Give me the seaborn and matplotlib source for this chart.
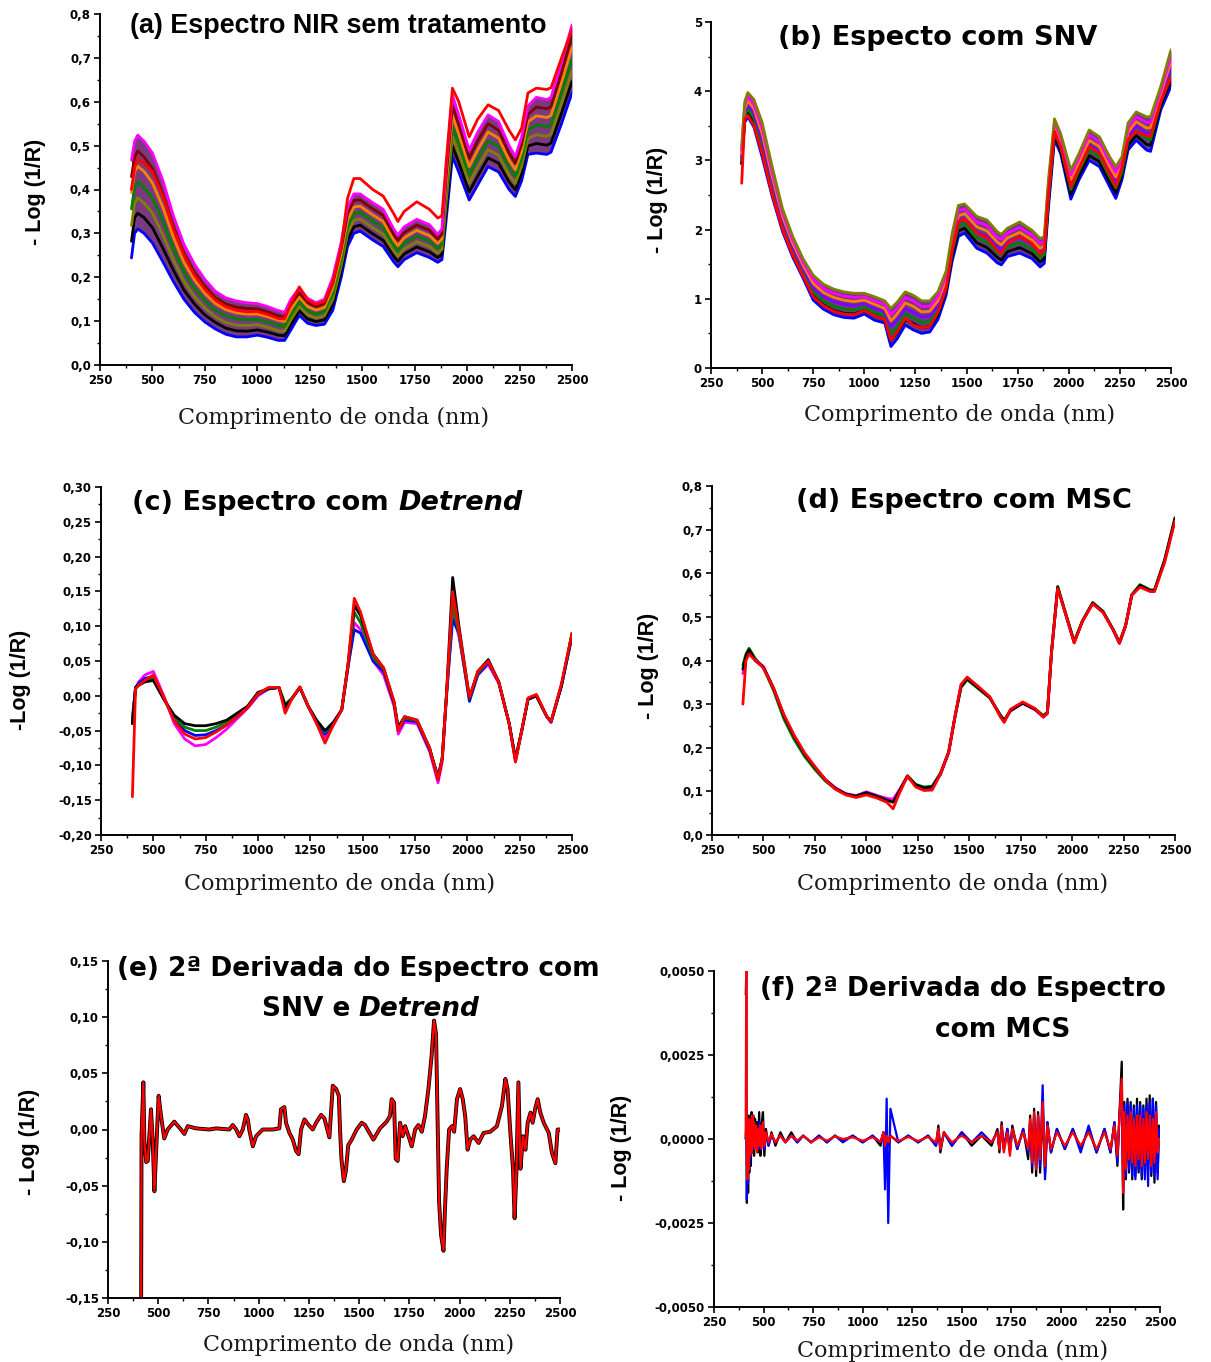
import matplotlib
matplotlib.use("Agg")
import matplotlib.pyplot as plt
import pandas as pd
import seaborn as sns
from matplotlib.ticker import MultipleLocator

# ---------------- data ----------------
# common wavelength grid (nm) for panels a-d
wavelength = [400, 415, 430, 460, 500, 550, 600, 650, 700, 750,
              800, 850, 900, 950, 1000, 1050, 1100, 1130, 1160, 1200,
              1240, 1280, 1320, 1360, 1400, 1430, 1460, 1490, 1550, 1600,
              1650, 1670, 1700, 1760, 1820, 1860, 1880, 1900, 1930, 1960,
              2010, 2050, 2100, 2150, 2200, 2230, 2260, 2290, 2330, 2380,
              2400, 2450, 2500]

# (a) raw NIR spectra
a_blue = [0.244, 0.300, 0.310, 0.300, 0.278, 0.235, 0.190, 0.150, 0.120, 0.098,
          0.082, 0.070, 0.064, 0.064, 0.068, 0.063, 0.056, 0.056, 0.080, 0.113,
          0.095, 0.090, 0.093, 0.125, 0.200, 0.270, 0.300, 0.305, 0.285, 0.270,
          0.235, 0.224, 0.240, 0.256, 0.245, 0.234, 0.240, 0.330, 0.475, 0.440,
          0.376, 0.410, 0.452, 0.440, 0.400, 0.384, 0.420, 0.480, 0.483, 0.480,
          0.485, 0.550, 0.620]
a_black = [0.282, 0.336, 0.346, 0.336, 0.313, 0.266, 0.216, 0.171, 0.139, 0.114,
           0.097, 0.084, 0.078, 0.077, 0.080, 0.075, 0.068, 0.067, 0.092, 0.124,
           0.105, 0.099, 0.103, 0.138, 0.214, 0.285, 0.315, 0.319, 0.299, 0.284,
           0.248, 0.236, 0.253, 0.269, 0.258, 0.245, 0.252, 0.350, 0.499, 0.462,
           0.395, 0.430, 0.472, 0.460, 0.417, 0.399, 0.437, 0.499, 0.505, 0.501,
           0.506, 0.574, 0.646]
a_olive = [0.318, 0.369, 0.381, 0.369, 0.346, 0.296, 0.240, 0.191, 0.156, 0.130,
           0.110, 0.097, 0.091, 0.090, 0.092, 0.086, 0.078, 0.077, 0.103, 0.133,
           0.114, 0.107, 0.112, 0.150, 0.226, 0.300, 0.330, 0.333, 0.313, 0.298,
           0.260, 0.248, 0.265, 0.281, 0.270, 0.255, 0.263, 0.370, 0.521, 0.483,
           0.414, 0.450, 0.491, 0.478, 0.433, 0.414, 0.453, 0.516, 0.525, 0.521,
           0.526, 0.596, 0.671]
a_green = [0.356, 0.405, 0.417, 0.405, 0.381, 0.328, 0.265, 0.213, 0.175, 0.147,
           0.125, 0.112, 0.105, 0.103, 0.104, 0.098, 0.090, 0.088, 0.115, 0.144,
           0.124, 0.116, 0.122, 0.163, 0.240, 0.315, 0.345, 0.348, 0.328, 0.313,
           0.273, 0.260, 0.278, 0.294, 0.283, 0.266, 0.275, 0.390, 0.545, 0.505,
           0.433, 0.470, 0.511, 0.498, 0.450, 0.430, 0.470, 0.535, 0.547, 0.543,
           0.548, 0.620, 0.698]
a_orange = [0.393, 0.441, 0.453, 0.441, 0.415, 0.359, 0.291, 0.234, 0.194, 0.163,
            0.140, 0.126, 0.119, 0.116, 0.116, 0.110, 0.102, 0.099, 0.127, 0.155,
            0.133, 0.125, 0.131, 0.175, 0.254, 0.330, 0.360, 0.362, 0.342, 0.327,
            0.285, 0.272, 0.290, 0.307, 0.295, 0.277, 0.287, 0.410, 0.569, 0.527,
            0.452, 0.490, 0.531, 0.517, 0.467, 0.445, 0.487, 0.554, 0.568, 0.564,
            0.569, 0.644, 0.724]
a_wine = [0.429, 0.474, 0.488, 0.474, 0.448, 0.389, 0.315, 0.254, 0.211, 0.179,
          0.153, 0.139, 0.132, 0.129, 0.128, 0.121, 0.112, 0.109, 0.138, 0.164,
          0.142, 0.133, 0.140, 0.187, 0.266, 0.345, 0.375, 0.376, 0.356, 0.341,
          0.297, 0.284, 0.302, 0.319, 0.307, 0.287, 0.298, 0.430, 0.591, 0.548,
          0.471, 0.510, 0.550, 0.535, 0.483, 0.460, 0.503, 0.571, 0.588, 0.584,
          0.589, 0.666, 0.749]
a_magenta = [0.467, 0.510, 0.524, 0.510, 0.483, 0.420, 0.340, 0.275, 0.230, 0.195,
             0.168, 0.153, 0.146, 0.142, 0.140, 0.133, 0.124, 0.120, 0.150, 0.175,
             0.152, 0.142, 0.150, 0.200, 0.280, 0.360, 0.390, 0.390, 0.370, 0.355,
             0.310, 0.296, 0.315, 0.332, 0.320, 0.298, 0.310, 0.450, 0.615, 0.570,
             0.490, 0.530, 0.570, 0.555, 0.500, 0.475, 0.520, 0.590, 0.610, 0.605,
             0.610, 0.690, 0.775]
a_red = [0.400, 0.450, 0.470, 0.460, 0.440, 0.385, 0.310, 0.250, 0.205, 0.173,
         0.148, 0.133, 0.125, 0.121, 0.122, 0.115, 0.106, 0.105, 0.140, 0.178,
         0.148, 0.138, 0.145, 0.190, 0.270, 0.380, 0.425, 0.425, 0.400, 0.385,
         0.345, 0.327, 0.350, 0.372, 0.355, 0.335, 0.340, 0.460, 0.631, 0.600,
         0.520, 0.560, 0.593, 0.580, 0.535, 0.513, 0.540, 0.620, 0.631, 0.628,
         0.632, 0.700, 0.764]

# (b) SNV
b_blue = [2.95, 3.55, 3.63, 3.48, 3.05, 2.47, 1.97, 1.60, 1.30, 0.98,
          0.85, 0.77, 0.73, 0.72, 0.78, 0.69, 0.65, 0.31, 0.42, 0.62,
          0.55, 0.50, 0.52, 0.70, 1.05, 1.55, 1.90, 1.95, 1.73, 1.66,
          1.52, 1.49, 1.61, 1.66, 1.58, 1.46, 1.51, 2.30, 3.30, 3.10,
          2.44, 2.72, 3.00, 2.91, 2.62, 2.45, 2.72, 3.15, 3.29, 3.15,
          3.13, 3.73, 4.07]
b_black = [2.95, 3.60, 3.69, 3.55, 3.14, 2.54, 2.03, 1.65, 1.35, 1.04,
           0.91, 0.83, 0.79, 0.78, 0.83, 0.75, 0.70, 0.40, 0.51, 0.70,
           0.64, 0.58, 0.60, 0.77, 1.11, 1.62, 1.98, 2.02, 1.81, 1.74,
           1.60, 1.56, 1.68, 1.74, 1.65, 1.53, 1.58, 2.37, 3.35, 3.15,
           2.51, 2.78, 3.07, 2.98, 2.69, 2.53, 2.78, 3.22, 3.36, 3.23,
           3.22, 3.79, 4.16]
b_green = [3.00, 3.65, 3.75, 3.61, 3.22, 2.61, 2.08, 1.70, 1.39, 1.10,
           0.97, 0.89, 0.85, 0.84, 0.88, 0.80, 0.76, 0.49, 0.59, 0.78,
           0.72, 0.66, 0.67, 0.83, 1.17, 1.68, 2.05, 2.09, 1.88, 1.82,
           1.67, 1.64, 1.75, 1.81, 1.72, 1.60, 1.64, 2.43, 3.40, 3.20,
           2.58, 2.85, 3.15, 3.05, 2.76, 2.60, 2.83, 3.28, 3.43, 3.31,
           3.30, 3.84, 4.24]
b_purple = [3.05, 3.70, 3.81, 3.68, 3.30, 2.69, 2.14, 1.75, 1.44, 1.16,
            1.03, 0.96, 0.92, 0.90, 0.93, 0.86, 0.81, 0.59, 0.69, 0.86,
            0.80, 0.74, 0.75, 0.90, 1.23, 1.75, 2.13, 2.16, 1.96, 1.90,
            1.75, 1.71, 1.82, 1.89, 1.79, 1.67, 1.71, 2.50, 3.45, 3.25,
            2.65, 2.91, 3.22, 3.13, 2.84, 2.68, 2.89, 3.35, 3.50, 3.39,
            3.38, 3.90, 4.34]
b_orange = [3.10, 3.75, 3.86, 3.75, 3.39, 2.76, 2.19, 1.80, 1.49, 1.22,
            1.09, 1.02, 0.98, 0.96, 0.98, 0.92, 0.86, 0.68, 0.78, 0.94,
            0.89, 0.81, 0.82, 0.97, 1.28, 1.82, 2.20, 2.23, 2.04, 1.98,
            1.82, 1.78, 1.88, 1.96, 1.85, 1.73, 1.77, 2.57, 3.50, 3.29,
            2.72, 2.97, 3.29, 3.20, 2.91, 2.76, 2.94, 3.41, 3.56, 3.47,
            3.47, 3.96, 4.43]
b_magenta = [3.15, 3.80, 3.92, 3.81, 3.47, 2.83, 2.24, 1.85, 1.53, 1.28,
             1.15, 1.08, 1.04, 1.02, 1.03, 0.97, 0.92, 0.77, 0.86, 1.02,
             0.97, 0.89, 0.89, 1.03, 1.34, 1.88, 2.27, 2.30, 2.11, 2.06,
             1.89, 1.86, 1.95, 2.03, 1.92, 1.80, 1.83, 2.63, 3.55, 3.34,
             2.79, 3.04, 3.37, 3.27, 2.98, 2.83, 3.00, 3.47, 3.63, 3.55,
             3.55, 4.01, 4.51]
b_olive = [3.20, 3.85, 3.98, 3.88, 3.55, 2.90, 2.30, 1.90, 1.58, 1.34,
           1.21, 1.14, 1.10, 1.08, 1.08, 1.03, 0.97, 0.86, 0.95, 1.10,
           1.05, 0.97, 0.97, 1.10, 1.40, 1.95, 2.35, 2.37, 2.19, 2.14,
           1.97, 1.93, 2.02, 2.11, 1.99, 1.87, 1.90, 2.70, 3.60, 3.39,
           2.86, 3.10, 3.44, 3.34, 3.05, 2.91, 3.05, 3.54, 3.70, 3.63,
           3.63, 4.07, 4.60]
b_red = [2.67, 3.60, 3.65, 3.50, 3.10, 2.50, 2.00, 1.63, 1.33, 1.03,
         0.90, 0.82, 0.78, 0.77, 0.83, 0.75, 0.70, 0.40, 0.52, 0.72,
         0.62, 0.58, 0.60, 0.80, 1.15, 1.70, 2.12, 2.15, 1.95, 1.88,
         1.70, 1.65, 1.80, 1.90, 1.80, 1.65, 1.70, 2.50, 3.42, 3.20,
         2.62, 2.88, 3.20, 3.10, 2.80, 2.62, 2.90, 3.30, 3.42, 3.35,
         3.35, 3.85, 4.20]

# (c) Detrend
c_magenta = [-0.030, 0.010, 0.020, 0.030, 0.035, 0.000, -0.040, -0.062, -0.072, -0.070,
             -0.060, -0.048, -0.033, -0.018, 0.000, 0.010, 0.012, -0.020, -0.005, 0.012,
             -0.015, -0.040, -0.060, -0.042, -0.020, 0.040, 0.105, 0.095, 0.050, 0.030,
             -0.015, -0.055, -0.038, -0.040, -0.080, -0.125, -0.095, -0.005, 0.120, 0.085,
             -0.003, 0.030, 0.045, 0.018, -0.040, -0.095, -0.050, -0.005, 0.000, -0.030,
             -0.038, 0.015, 0.085]
c_blue = [-0.040, 0.012, 0.018, 0.025, 0.028, -0.003, -0.034, -0.050, -0.057, -0.056,
          -0.050, -0.042, -0.030, -0.017, 0.002, 0.010, 0.012, -0.018, -0.005, 0.012,
          -0.016, -0.038, -0.055, -0.040, -0.020, 0.042, 0.095, 0.090, 0.050, 0.035,
          -0.010, -0.050, -0.035, -0.037, -0.078, -0.115, -0.090, 0.000, 0.110, 0.090,
          -0.008, 0.030, 0.048, 0.020, -0.040, -0.092, -0.050, -0.005, 0.000, -0.030,
          -0.038, 0.015, 0.085]
c_green = [-0.035, 0.012, 0.016, 0.022, 0.025, -0.004, -0.031, -0.045, -0.050, -0.050,
           -0.045, -0.038, -0.028, -0.016, 0.003, 0.010, 0.012, -0.012, -0.004, 0.012,
           -0.015, -0.036, -0.052, -0.039, -0.020, 0.043, 0.120, 0.105, 0.055, 0.038,
           -0.010, -0.048, -0.032, -0.036, -0.076, -0.118, -0.090, 0.000, 0.130, 0.090,
           -0.004, 0.032, 0.050, 0.020, -0.040, -0.092, -0.050, -0.004, 0.001, -0.030,
           -0.037, 0.016, 0.088]
c_black = [-0.040, 0.012, 0.015, 0.020, 0.022, -0.005, -0.028, -0.040, -0.043, -0.043,
           -0.040, -0.035, -0.025, -0.015, 0.005, 0.010, 0.012, -0.015, -0.005, 0.012,
           -0.015, -0.035, -0.050, -0.038, -0.020, 0.045, 0.130, 0.115, 0.060, 0.040,
           -0.010, -0.045, -0.030, -0.035, -0.075, -0.120, -0.090, 0.000, 0.170, 0.100,
           -0.003, 0.035, 0.052, 0.020, -0.040, -0.090, -0.050, -0.005, 0.000, -0.030,
           -0.037, 0.015, 0.090]
c_red = [-0.145, 0.010, 0.015, 0.022, 0.030, -0.002, -0.036, -0.055, -0.062, -0.060,
         -0.052, -0.042, -0.030, -0.017, 0.003, 0.012, 0.012, -0.025, -0.005, 0.013,
         -0.015, -0.040, -0.068, -0.042, -0.020, 0.045, 0.140, 0.120, 0.060, 0.040,
         -0.008, -0.050, -0.030, -0.035, -0.075, -0.120, -0.090, 0.000, 0.150, 0.095,
         -0.002, 0.035, 0.050, 0.020, -0.040, -0.095, -0.050, -0.003, 0.002, -0.030,
         -0.037, 0.018, 0.090]

# (d) MSC
d_black = [0.380, 0.410, 0.425, 0.400, 0.385, 0.335, 0.272, 0.225, 0.185, 0.155,
           0.127, 0.107, 0.094, 0.089, 0.097, 0.089, 0.080, 0.075, 0.100, 0.135,
           0.115, 0.108, 0.110, 0.140, 0.190, 0.270, 0.340, 0.358, 0.335, 0.315,
           0.275, 0.262, 0.285, 0.302, 0.288, 0.272, 0.280, 0.420, 0.568, 0.520,
           0.442, 0.490, 0.532, 0.512, 0.470, 0.440, 0.480, 0.550, 0.572, 0.560,
           0.560, 0.630, 0.725]
d_green = [0.390, 0.415, 0.428, 0.405, 0.383, 0.330, 0.265, 0.218, 0.180, 0.150,
           0.124, 0.105, 0.093, 0.090, 0.098, 0.090, 0.082, 0.078, 0.102, 0.136,
           0.116, 0.110, 0.112, 0.142, 0.190, 0.268, 0.338, 0.356, 0.333, 0.314,
           0.276, 0.263, 0.286, 0.303, 0.289, 0.274, 0.282, 0.420, 0.570, 0.522,
           0.444, 0.491, 0.533, 0.513, 0.471, 0.442, 0.481, 0.551, 0.574, 0.562,
           0.562, 0.632, 0.728]
d_magenta = [0.370, 0.405, 0.420, 0.402, 0.386, 0.336, 0.274, 0.227, 0.187, 0.156,
             0.128, 0.108, 0.095, 0.090, 0.099, 0.091, 0.084, 0.082, 0.103, 0.134,
             0.114, 0.106, 0.108, 0.138, 0.188, 0.268, 0.342, 0.360, 0.336, 0.316,
             0.273, 0.260, 0.284, 0.302, 0.287, 0.270, 0.278, 0.418, 0.566, 0.519,
             0.441, 0.489, 0.531, 0.511, 0.469, 0.439, 0.479, 0.549, 0.571, 0.559,
             0.559, 0.629, 0.724]
d_red = [0.300, 0.400, 0.415, 0.400, 0.383, 0.335, 0.275, 0.228, 0.188, 0.157,
         0.127, 0.105, 0.092, 0.086, 0.092, 0.085, 0.075, 0.060, 0.095, 0.135,
         0.110, 0.102, 0.103, 0.140, 0.190, 0.270, 0.345, 0.362, 0.338, 0.317,
         0.272, 0.258, 0.288, 0.305, 0.290, 0.270, 0.280, 0.420, 0.565, 0.520,
         0.440, 0.490, 0.530, 0.510, 0.470, 0.440, 0.480, 0.550, 0.568, 0.558,
         0.558, 0.625, 0.720]

# (e) 2nd derivative, SNV + Detrend
e_wavelength = [415, 417, 426, 431, 440, 448, 456, 464, 473, 481,
                492, 502, 514, 530, 547, 580, 613, 630, 647, 688,
                755, 788, 854, 871, 888, 904, 921, 937, 946, 954,
                971, 987, 1020, 1070, 1103, 1111, 1128, 1136, 1153, 1170,
                1186, 1199, 1211, 1228, 1244, 1269, 1286, 1311, 1327, 1352,
                1369, 1386, 1399, 1405, 1412, 1424, 1434, 1446, 1463, 1488,
                1513, 1529, 1571, 1604, 1637, 1654, 1662, 1674, 1682, 1692,
                1704, 1717, 1729, 1746, 1762, 1779, 1795, 1812, 1828, 1845,
                1861, 1873, 1883, 1890, 1898, 1908, 1920, 1928, 1936, 1948,
                1962, 1973, 1987, 2003, 2016, 2028, 2040, 2053, 2070, 2095,
                2120, 2153, 2186, 2211, 2228, 2239, 2253, 2266, 2274, 2283,
                2293, 2303, 2316, 2328, 2339, 2353, 2364, 2377, 2389, 2402,
                2419, 2444, 2460, 2477, 2488, 2498]
e_deriv = [-0.150, -0.005, 0.042, -0.010, -0.029, -0.028, -0.005, 0.018, -0.012, -0.055,
           -0.010, 0.030, 0.012, -0.008, 0.000, 0.007, 0.000, -0.004, 0.003, 0.001,
           0.000, 0.001, 0.000, 0.004, 0.000, -0.006, 0.000, 0.013, 0.009, -0.001,
           -0.015, -0.006, 0.000, 0.000, 0.001, 0.018, 0.020, 0.006, -0.003, -0.009,
           -0.019, -0.022, 0.000, 0.009, 0.005, 0.000, 0.006, 0.013, 0.010, -0.007,
           0.039, 0.036, 0.030, 0.000, -0.026, -0.046, -0.037, -0.014, -0.009, 0.000,
           0.006, 0.004, -0.009, 0.001, 0.007, 0.012, 0.027, 0.024, -0.026, -0.028,
           0.006, -0.006, 0.003, -0.006, -0.015, 0.000, 0.004, -0.002, 0.012, 0.036,
           0.066, 0.097, 0.085, 0.015, -0.064, -0.094, -0.108, -0.068, -0.035, 0.000,
           0.003, -0.002, 0.027, 0.036, 0.027, 0.012, -0.018, -0.009, -0.006, -0.012,
           -0.003, -0.002, 0.003, 0.021, 0.045, 0.036, -0.003, -0.035, -0.079, -0.038,
           0.042, -0.035, -0.006, -0.018, 0.006, 0.015, 0.006, 0.019, 0.027, 0.015,
           0.006, -0.003, -0.021, -0.030, 0.000, 0.000]

# (f) 2nd derivative, MSC
f_wavelength = [410, 413, 416, 419, 422, 425, 428, 432, 436, 440,
                444, 448, 452, 457, 462, 467, 472, 478, 484, 490,
                497, 504, 512, 525, 540, 560, 585, 610, 640, 670,
                700, 740, 780, 820, 860, 900, 950, 1000, 1050, 1090,
                1105, 1113, 1121, 1129, 1140, 1180, 1230, 1280, 1330, 1370,
                1382, 1392, 1410, 1450, 1500, 1550, 1600, 1650, 1680, 1690,
                1701, 1712, 1730, 1743, 1755, 1780, 1810, 1835, 1845, 1855,
                1865, 1875, 1885, 1895, 1908, 1920, 1932, 1950, 1980, 2020,
                2060, 2100, 2140, 2180, 2220, 2250, 2270, 2285, 2295, 2307,
                2314, 2320, 2328, 2336, 2344, 2352, 2360, 2368, 2376, 2384,
                2392, 2400, 2408, 2416, 2424, 2432, 2440, 2448, 2456, 2464,
                2472, 2480, 2488, 2495]
f_black = [0.0, 0.0005, -0.0019, 0.0004, -0.0016, 0.0007, -0.0010, 0.0006, -0.0008, 0.0008,
           -0.0004, 0.0007, -0.0005, 0.0006, -0.0003, 0.0005, -0.0004, 0.0008, -0.0005, 0.0004,
           0.0008, -0.0005, 0.0003, -0.0002, 0.0002, -0.0002, 0.0002, -0.0001, 0.0002, -0.0001,
           0.0001, -0.0001, 0.0001, -0.0001, 0.0001, -0.00005, 0.0001, -0.0001, 0.0001, -0.0002,
           0.0002, -0.0003, 0.0002, -0.0002, 0.0001, -0.0001, 0.0001, -0.0001, 0.0001, -0.0002,
           0.0004, -0.0004, 0.0002, -0.0002, 0.0002, -0.0002, 0.0001, -0.0002, 0.0003, -0.0004,
           0.0005, -0.0003, 0.0003, -0.0004, 0.0004, -0.0003, 0.0003, -0.0006, 0.0007, -0.0010,
           0.0009, -0.0011, 0.0008, -0.0010, 0.0009, -0.0010, 0.0005, -0.0004, 0.0003, -0.0003,
           0.0003, -0.0003, 0.0003, -0.0004, 0.0003, -0.0004, 0.0005, -0.0008, 0.0007, 0.0023,
           -0.0021, 0.0011, -0.0012, 0.0012, -0.0010, 0.0011, -0.0012, 0.0010, -0.0011, 0.0012,
           -0.0010, 0.0011, -0.0012, 0.0010, -0.0011, 0.0012, -0.0009, 0.0013, -0.0011, 0.0012,
           -0.0013, 0.0011, -0.0010, 0.0004]
f_blue = [0.0043, 0.0050, -0.0018, 0.0003, -0.0013, 0.0005, -0.0008, 0.0004, -0.0005, 0.0005,
          -0.0003, 0.0005, -0.0003, 0.0004, -0.0002, 0.0003, -0.0003, 0.0005, -0.0003, 0.0003,
          0.0003, -0.0003, 0.0002, -0.0002, 0.0001, -0.0001, 0.0001, -0.0001, 0.0001, -0.0001,
          0.0001, -0.0001, 0.0001, -0.0001, 0.0001, -0.0001, 0.0001, -0.0001, 0.0001, -0.0001,
          0.0002, -0.0015, 0.0012, -0.0025, 0.0009, -0.0001, 0.0001, -0.0001, 0.0001, -0.0002,
          0.0003, -0.0003, 0.0002, -0.0002, 0.0002, -0.0001, 0.0002, -0.0001, 0.0002, -0.0003,
          0.0004, -0.0003, 0.0003, -0.0003, 0.0003, -0.0003, 0.0003, -0.0004, 0.0005, -0.0008,
          0.0007, -0.0009, 0.0007, -0.0008, 0.0016, -0.0012, 0.0005, -0.0004, 0.0003, -0.0003,
          0.0003, -0.0004, 0.0004, -0.0004, 0.0003, -0.0004, 0.0005, -0.0007, 0.0006, 0.0017,
          -0.0015, 0.0010, -0.0011, 0.0011, -0.0009, 0.0010, -0.0011, 0.0009, -0.0012, 0.0010,
          -0.0009, 0.0010, -0.0011, 0.0009, -0.0012, 0.0010, -0.0014, 0.0011, -0.0010, 0.0012,
          -0.0011, 0.0010, -0.0012, 0.0003]
f_red = [0.0, 0.0058, -0.0007, -0.0012, 0.0004, -0.0009, 0.0006, -0.0005, 0.0003, -0.0004,
         0.0007, -0.0002, 0.0005, -0.0003, 0.0004, -0.0004, 0.0003, -0.0002, 0.0004, -0.0003,
         0.0005, -0.0002, 0.0002, -0.0001, 0.00015, -0.0001, 0.0001, -0.0001, 0.0001, -0.00005,
         0.0001, -0.0001, 0.00005, -0.00005, 0.00008, 0.0, 0.00005, -0.00005, 0.00005, -0.00008,
         0.0002, -0.0002, 0.0001, -0.0001, 0.00008, -0.00006, 0.00006, -0.00006, 0.00006, -0.0001,
         0.0003, -0.0003, 0.0002, -0.0001, 0.0001, -0.0001, 0.0001, -0.0001, 0.0002, -0.0003,
         0.0004, -0.0004, 0.0002, -0.0005, 0.0003, -0.0002, 0.0002, -0.0003, 0.0006, -0.0007,
         0.0008, -0.0009, 0.0007, -0.0006, 0.0011, -0.0008, 0.0004, -0.0003, 0.0002, -0.0002,
         0.0002, -0.0002, 0.0002, -0.0003, 0.0002, -0.0003, 0.0004, -0.0005, 0.0006, 0.0018,
         -0.0016, 0.0008, -0.0009, 0.0007, -0.0006, 0.0008, -0.0007, 0.0006, -0.0008, 0.0007,
         -0.0006, 0.0007, -0.0008, 0.0006, -0.0007, 0.0008, -0.0006, 0.0007, -0.0008, 0.0006,
         -0.0007, 0.0008, -0.0004, 0.0]

# tick labels
x_ticks = [250, 500, 750, 1000, 1250, 1500, 1750, 2000, 2250, 2500]
x_tick_labels = ["250", "500", "750", "1000", "1250", "1500", "1750", "2000", "2250", "2500"]
ticks_08 = [0.0, 0.1, 0.2, 0.3, 0.4, 0.5, 0.6, 0.7, 0.8]
labels_08 = ["0,0", "0,1", "0,2", "0,3", "0,4", "0,5", "0,6", "0,7", "0,8"]
ticks_snv = [0, 1, 2, 3, 4, 5]
labels_snv = ["0", "1", "2", "3", "4", "5"]
ticks_det = [-0.20, -0.15, -0.10, -0.05, 0.0, 0.05, 0.10, 0.15, 0.20, 0.25, 0.30]
labels_det = ["-0,20", "-0,15", "-0,10", "-0,05", "0,00", "0,05", "0,10", "0,15", "0,20", "0,25", "0,30"]
ticks_e = [-0.15, -0.10, -0.05, 0.0, 0.05, 0.10, 0.15]
labels_e = ["-0,15", "-0,10", "-0,05", "0,00", "0,05", "0,10", "0,15"]
ticks_f = [-0.005, -0.0025, 0.0, 0.0025, 0.005]
labels_f = ["-0,0050", "-0,0025", "0,0000", "0,0025", "0,0050"]

# ---------------- figure ----------------
W, H = 1211, 1362
sns.set_theme(style="ticks")
plt.rcParams["font.family"] = ["DejaVu Sans"]
plt.rcParams["text.color"] = "black"

fig = plt.figure(figsize=(W / 100, H / 100), dpi=100)
fig.patch.set_facecolor("white")


def box(left, right, top, bottom):
    return [left / W, 1 - bottom / H, (right - left) / W, (bottom - top) / H]


def draw_lines(ax, wl, series, palette, lw):
    parts = [pd.DataFrame({"wl": wl, "val": v, "amostra": k}) for k, v in series.items()]
    df = pd.concat(parts, ignore_index=True)
    sns.lineplot(data=df, x="wl", y="val", hue="amostra", hue_order=list(series.keys()),
                 palette=palette, estimator=None, sort=False, linewidth=lw,
                 legend=False, ax=ax)


def style_axes(ax, ylim, yticks, ylabels, yminor):
    ax.set_xlim(250, 2500)
    ax.set_ylim(*ylim)
    ax.set_xticks(x_ticks)
    ax.set_xticklabels(x_tick_labels)
    ax.xaxis.set_minor_locator(MultipleLocator(125))
    ax.set_yticks(yticks)
    ax.set_yticklabels(ylabels)
    ax.yaxis.set_minor_locator(MultipleLocator(yminor))
    ax.set_xlabel("")
    ax.set_ylabel("")
    ax.set_facecolor("white")
    sns.despine(ax=ax)
    for s in ("left", "bottom"):
        ax.spines[s].set_linewidth(1.4)
        ax.spines[s].set_color("black")
    ax.tick_params(which="major", direction="out", length=4.5, width=1.2, pad=2,
                   labelsize=8.5, colors="black")
    ax.tick_params(which="minor", direction="out", length=2.5, width=1.0, colors="black")
    for lab in ax.get_xticklabels() + ax.get_yticklabels():
        lab.set_fontweight("bold")


def put(x, y, s, **kw):
    fig.text(x / W, 1 - y / H, s, ha=kw.pop("ha", "center"), va=kw.pop("va", "center"), **kw)


title_kw = dict(fontsize=19.5, fontweight="bold", family=["DejaVu Sans"], color="black")
sub_kw = dict(fontsize=19, fontweight="bold", family=["DejaVu Sans"], color="black")
xlab_kw = dict(fontsize=16, family=["DejaVu Serif"], color="#1a1a1a")
ylab_kw = dict(fontsize=15.5, fontweight="bold", family=["Liberation Sans", "DejaVu Sans"],
               rotation=90, color="black")
xlabel = "Comprimento de onda (nm)"

# (a)
ax_a = fig.add_axes(box(100, 572, 14, 365))
ax_a.fill_between(wavelength, a_blue, a_magenta, color="#7a3a80", lw=0)
draw_lines(ax_a, wavelength,
           {"blue": a_blue, "black": a_black, "olive": a_olive, "green": a_green,
            "orange": a_orange, "wine": a_wine, "magenta": a_magenta, "red": a_red},
           {"blue": "#0000ff", "black": "#000000", "olive": "#808000", "green": "#008000",
            "orange": "#ff8000", "wine": "#800000", "magenta": "#ff00ff", "red": "#ff0000"}, 2.0)
style_axes(ax_a, (0, 0.8), ticks_08, labels_08, 0.05)
put(338, 26, "(a) Espectro NIR sem tratamento", fontsize=19.4, fontweight="bold",
    family=["Liberation Sans", "DejaVu Sans"], color="black")
put(334, 418, xlabel, **xlab_kw)
put(36, 192, "- Log (1/R)", **ylab_kw)

# (b)
ax_b = fig.add_axes(box(711, 1171, 22, 368))
ax_b.fill_between(wavelength, b_blue, b_olive, color="#6a3a8a", lw=0)
draw_lines(ax_b, wavelength,
           {"blue": b_blue, "black": b_black, "green": b_green, "purple": b_purple,
            "orange": b_orange, "magenta": b_magenta, "olive": b_olive, "red": b_red},
           {"blue": "#0000ff", "black": "#000000", "green": "#008000", "purple": "#8000ff",
            "orange": "#ff8000", "magenta": "#ff00ff", "olive": "#808000", "red": "#ff0000"}, 2.0)
style_axes(ax_b, (0, 5), ticks_snv, labels_snv, 0.5)
put(938, 38, "(b) Especto com SNV", **title_kw)
put(960, 415, xlabel, **xlab_kw)
put(657, 200, "- Log (1/R)", **ylab_kw)

# (c)
ax_c = fig.add_axes(box(101, 572, 487, 835))
draw_lines(ax_c, wavelength,
           {"magenta": c_magenta, "blue": c_blue, "green": c_green, "black": c_black, "red": c_red},
           {"magenta": "#ff00ff", "blue": "#0000ff", "green": "#008000", "black": "#000000",
            "red": "#ff0000"}, 2.0)
style_axes(ax_c, (-0.20, 0.30), ticks_det, labels_det, 0.025)
put(389, 503, "(c) Espectro com", ha="right", **title_kw)
put(398, 503, "Detrend", ha="left", style="italic", **title_kw)
put(340, 884, xlabel, **xlab_kw)
put(21, 680, "-Log (1/R)", **ylab_kw)

# (d)
ax_d = fig.add_axes(box(712, 1175, 486, 835))
draw_lines(ax_d, wavelength,
           {"green": d_green, "magenta": d_magenta, "black": d_black, "red": d_red},
           {"green": "#008000", "magenta": "#ff00ff", "black": "#000000", "red": "#ff0000"}, 2.0)
style_axes(ax_d, (0, 0.8), ticks_08, labels_08, 0.05)
put(964, 501, "(d) Espectro com MSC", **title_kw)
put(953, 884, xlabel, **xlab_kw)
put(648, 666, "- Log (1/R)", **ylab_kw)

# (e)
ax_e = fig.add_axes(box(108, 560, 961, 1298))
draw_lines(ax_e, e_wavelength, {"black": e_deriv}, {"black": "#000000"}, 2.8)
draw_lines(ax_e, e_wavelength, {"red": e_deriv}, {"red": "#ff0000"}, 1.6)
style_axes(ax_e, (-0.15, 0.15), ticks_e, labels_e, 0.025)
put(358, 969, "(e) 2ª Derivada do Espectro com", **sub_kw)
put(350, 1009, "SNV e", ha="right", **sub_kw)
put(358, 1009, "Detrend", ha="left", style="italic", **sub_kw)
put(359, 1345, xlabel, **xlab_kw)
put(30, 1142, "- Log (1/R)", **ylab_kw)

# (f)
ax_f = fig.add_axes(box(714, 1160, 971, 1307))
draw_lines(ax_f, f_wavelength,
           {"black": f_black, "blue": f_blue, "red": f_red},
           {"black": "#000000", "blue": "#0000ff", "red": "#ff0000"}, 1.6)
style_axes(ax_f, (-0.005, 0.005), ticks_f, labels_f, 0.00125)
put(963, 989, "(f) 2ª Derivada do Espectro", **sub_kw)
put(1003, 1030, "com MCS", **sub_kw)
put(953, 1351, xlabel, **xlab_kw)
put(621, 1148, "- Log (1/R)", **ylab_kw)

fig.savefig("out.png", dpi=100, facecolor="white")
